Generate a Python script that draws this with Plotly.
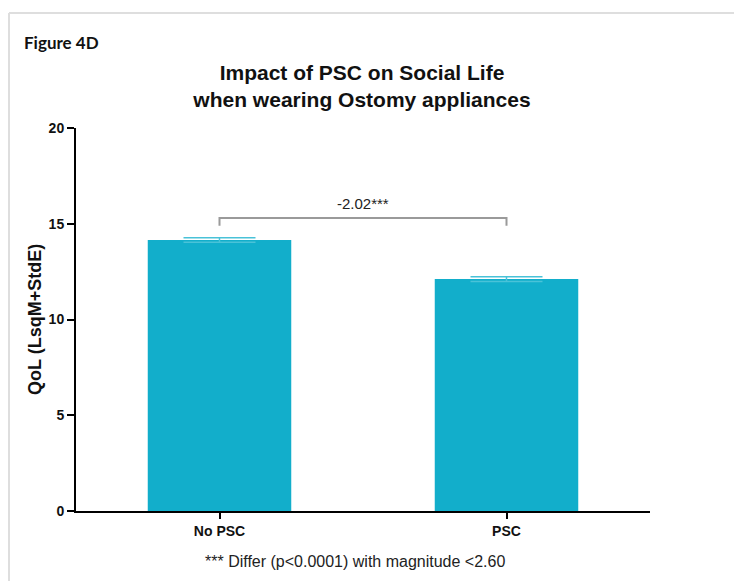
import plotly.graph_objects as go

categories = ["No PSC", "PSC"]
lsq_means = [14.15, 12.11]
std_errors = [0.12, 0.12]
difference_label = "-2.02***"
y_ticks = [0, 5, 10, 15, 20]

BAR = "#12aecb"
ERR = "#49c2d8"

# figure is placed with an 8px page margin; plot area in figure pixels
L, T, R_EDGE, B_EDGE = 68, 120, 642, 503
W, H = 734, 573
PW, PH = R_EDGE - L, B_EDGE - T


def px(fx):
    return (fx - L) / PW


def py(fy):
    return (B_EDGE - fy) / PH


fig = go.Figure()
fig.add_trace(go.Bar(
    x=categories, y=lsq_means, width=0.5,
    marker=dict(color=BAR, line=dict(color=BAR, width=0)),
    error_y=dict(type="data", array=std_errors, visible=True,
                 color=ERR, thickness=1.5, width=36),
    showlegend=False,
))

# significance bracket
br_low, br_high = 14.9, 15.3
fig.add_shape(type="path",
              path=f"M 0,{br_low} L 0,{br_high} L 1,{br_high} L 1,{br_low}",
              xref="x", yref="y", line=dict(color="#9a9a9a", width=2))
fig.add_annotation(x=0.5, y=br_high, xref="x", yref="y", text=difference_label,
                   showarrow=False, yanchor="bottom", yshift=4,
                   font=dict(family="Liberation Sans, Arial", size=15, color="#222"))

# frame lines (light gray, top and left)
fig.add_shape(type="line", xref="paper", yref="paper",
              x0=px(1), x1=px(W), y0=py(5), y1=py(5),
              line=dict(color="#dedede", width=2))
fig.add_shape(type="line", xref="paper", yref="paper",
              x0=px(1), x1=px(1), y0=py(5), y1=py(H),
              line=dict(color="#dedede", width=2))

fig.add_annotation(x=px(14), y=py(35), xref="paper", yref="paper",
                   text="<b>Figure 4D</b>", showarrow=False, xanchor="left", yanchor="middle",
                   font=dict(family="Lato, Liberation Sans", size=17, color="#111"))

fig.add_annotation(x=px(347), y=py(553), xref="paper", yref="paper",
                   text="*** Differ (p<0.0001) with magnitude <2.60", showarrow=False,
                   xanchor="center", yanchor="middle",
                   font=dict(family="Liberation Sans, Arial", size=16, color="#222"))

fig.add_annotation(x=px(27), y=py(312), xref="paper", yref="paper",
                   text="<b>QoL (LsqM+StdE)</b>", showarrow=False, textangle=-90,
                   xanchor="center", yanchor="middle",
                   font=dict(family="Liberation Sans, Arial", size=18, color="#111"))

fig.update_layout(
    width=W, height=H,
    margin=dict(l=L, r=W - R_EDGE, t=T, b=H - B_EDGE),
    paper_bgcolor="white", plot_bgcolor="white",
    title=dict(text="<b>Impact of PSC on Social Life<br>when wearing Ostomy appliances</b>",
               x=px(354), xanchor="center", xref="paper", y=1 - 72 / H, yanchor="middle",
               font=dict(family="Liberation Sans, Arial", size=21, color="#111")),
    xaxis=dict(range=[-0.5, 1.5], showline=True, linecolor="black", linewidth=2,
               ticks="outside", ticklen=6, tickwidth=2, tickcolor="black",
               tickfont=dict(family="Liberation Sans, Arial", size=14, color="#111"),
               tickvals=[0, 1], ticktext=[f"<b>{c}</b>" for c in categories],
               showgrid=False, zeroline=False),
    yaxis=dict(range=[0, 20], showline=True, linecolor="black", linewidth=2,
               ticks="outside", ticklen=7, tickwidth=2, tickcolor="black",
               tickvals=y_ticks, ticktext=[f"<b>{t}</b>" for t in y_ticks],
               tickfont=dict(family="Liberation Sans, Arial", size=14, color="#111"),
               showgrid=False, zeroline=False),
)
fig.write_html("out.html")
